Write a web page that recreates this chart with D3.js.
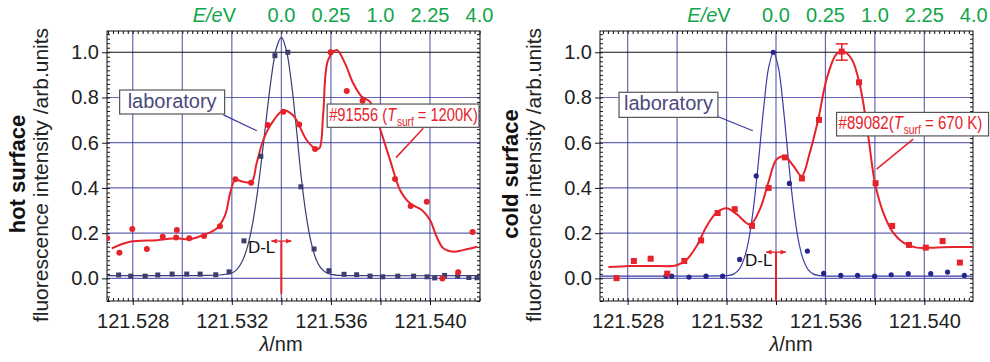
<!DOCTYPE html>
<html><head><meta charset="utf-8">
<script src="https://cdn.jsdelivr.net/npm/d3@7"></script>
<style>
html,body{margin:0;padding:0;background:#fff;}
svg{display:block;font-family:"Liberation Sans",Arial,Helvetica,sans-serif;}
</style></head><body>
<svg id="chart" width="990" height="362"></svg>
<script>
// ---- axis ticks ----
const lambdaTicks = [121.528, 121.530, 121.532, 121.534, 121.536, 121.538, 121.540];
const lambdaLabels = ["121.528", "121.532", "121.536", "121.540"];
const yTicks = [0, 0.2, 0.4, 0.6, 0.8, 1.0];
const energyTicks = [0, 0.25, 1, 2.25, 4];
const energyLabels = ["0.0", "0.25", "1.0", "2.25", "4.0"];

// ---- hot surface: laboratory reference ----
const hotLabX = [121.52743,121.52792,121.5285,121.52901,121.52959,121.53018,121.53072,121.53135,121.53189,121.53249,121.53317,121.53374,121.53426,121.53479,121.53532,121.53592,121.53653,121.53704,121.53758,121.53809,121.5387,121.53934,121.53988,121.54019,121.54059,121.54112,121.54157,121.5419];
const hotLabY = [0.015,0.010,0.010,0.015,0.019,0.019,0.019,0.016,0.029,0.166,0.54,0.985,1.0,0.405,0.13,0.034,0.018,0.016,0.010,0.007,0.010,0.010,0.007,0.002,0.013,0.010,0.004,0.003];
const hotLabFitX = [121.52696,121.5300,121.5310,121.5316,121.5320,121.5322,121.5324,121.5326,121.5328,121.5330,121.5332,121.5334,121.5336,121.5338,121.5340,121.5342,121.5344,121.5346,121.5348,121.5350,121.5352,121.5354,121.5356,121.5358,121.5360,121.5364,121.5370,121.54202];
const hotLabFitY = [0.012,0.012,0.013,0.016,0.024,0.039,0.071,0.128,0.22,0.354,0.524,0.714,0.892,1.019,1.066,1.01,0.87,0.67,0.45,0.28,0.16,0.085,0.045,0.026,0.018,0.013,0.012,0.012];

// ---- hot surface: discharge #91556 ----
const hotX = [121.52697,121.52746,121.52798,121.52857,121.52921,121.52975,121.52978,121.53028,121.53088,121.53152,121.53214,121.53278,121.53345,121.53408,121.53472,121.53536,121.53599,121.53664,121.53728,121.53859,121.53922,121.53987,121.5405,121.54114,121.54172];
const hotY = [0.177,0.113,0.218,0.13,0.184,0.181,0.214,0.177,0.187,0.231,0.438,0.423,0.678,0.737,0.681,0.572,1.0,0.829,0.786,0.439,0.32,0.339,0.0,0.027,0.205];
const hotFitX = [121.52715,121.52789,121.52897,121.52978,121.53031,121.53085,121.53139,121.53173,121.53193,121.53213,121.53246,121.5328,121.533,121.53327,121.53361,121.53408,121.53448,121.53502,121.53536,121.53553,121.53569,121.53589,121.53623,121.53657,121.5369,121.53724,121.53758,121.53791,121.53839,121.53879,121.53919,121.53967,121.54,121.54027,121.54054,121.54094,121.54134,121.5419];
const hotFitY = [0.133,0.162,0.169,0.177,0.173,0.192,0.221,0.28,0.376,0.435,0.427,0.427,0.509,0.612,0.686,0.742,0.72,0.612,0.575,0.575,0.73,0.966,1.01,0.951,0.863,0.804,0.781,0.686,0.523,0.391,0.332,0.302,0.258,0.184,0.133,0.118,0.125,0.14];

// ---- cold surface: laboratory reference ----
const coldLabX = [121.52955,121.52978,121.53048,121.53117,121.53184,121.53253,121.5332,121.53389,121.53454,121.53527,121.53593,121.53662,121.5373,121.53799,121.53866,121.53935,121.54026,121.54094,121.54162];
const coldLabY = [0.01,0.01,0.006,0.01,0.01,0.084,0.453,1.0,0.42,0.121,0.022,0.013,0.013,0.01,0.016,0.021,0.021,0.028,0.013];
const coldLabFitX = [121.52688,121.5310,121.5317,121.5319,121.5321,121.5323,121.5325,121.5327,121.5329,121.5331,121.5333,121.5335,121.5337,121.5339,121.5341,121.5343,121.5345,121.5347,121.5349,121.5351,121.5353,121.5355,121.5357,121.5359,121.5366,121.54197];
const coldLabFitY = [0.01,0.01,0.011,0.011,0.013,0.02,0.039,0.084,0.172,0.322,0.527,0.752,0.931,1.0,0.931,0.752,0.527,0.322,0.172,0.084,0.039,0.02,0.013,0.011,0.01,0.01];

// ---- cold surface: discharge #89082 ----
const coldX = [121.52755,121.52825,121.52893,121.5296,121.53029,121.53097,121.53164,121.53233,121.53303,121.5337,121.53436,121.53505,121.53574,121.53666,121.53736,121.53803,121.5387,121.53938,121.54006,121.54074,121.54144];
const coldY = [0.001,0.077,0.087,0.021,0.077,0.168,0.289,0.306,0.232,0.4,0.535,0.442,0.701,1.003,0.867,0.421,0.232,0.148,0.136,0.165,0.07];
const coldFitX = [121.52722,121.52809,121.52904,121.52998,121.53039,121.53079,121.5312,121.5316,121.532,121.53241,121.53295,121.53335,121.53369,121.53403,121.53436,121.5347,121.53504,121.53537,121.53571,121.53605,121.53645,121.53672,121.53706,121.5374,121.53773,121.538,121.53834,121.53874,121.53915,121.53969,121.54036,121.54117,121.54197];
const coldFitY = [0.05,0.055,0.055,0.058,0.084,0.143,0.232,0.291,0.31,0.284,0.238,0.306,0.424,0.527,0.539,0.498,0.453,0.557,0.704,0.882,0.992,1.003,0.97,0.852,0.63,0.424,0.291,0.202,0.158,0.136,0.136,0.139,0.139];
const coldErrX = [121.53666];
const coldErrLow = [0.965];
const coldErrHigh = [1.037];

// ---- styling ----
const RED = "#e6222a";
const GRID = "#33339c";
const GREEN = "#10a64a";
const plotTop = 31, plotBottom = 301;
const yDomain = [-0.1, 1.094];

const svg = d3.select("#chart");
const defs = svg.append("defs");
defs.append("marker").attr("id", "dlArrow")
  .attr("viewBox", "0 0 10 10").attr("refX", 9).attr("refY", 5)
  .attr("markerWidth", 6).attr("markerHeight", 6)
  .attr("markerUnits", "userSpaceOnUse")
  .attr("orient", "auto-start-reverse")
  .append("path").attr("d", "M0,1 L10,5 L0,9 Z").attr("fill", RED);

const zip = (a, b) => a.map((v, i) => [v, b[i]]);

function drawPanel(p) {
  const x = d3.scaleLinear().domain(p.xDomain).range([p.left, p.right]);
  const y = d3.scaleLinear().domain(yDomain).range([plotBottom, plotTop]);
  const g = svg.append("g");
  const clipId = "clip-" + p.id;
  defs.append("clipPath").attr("id", clipId).append("rect")
    .attr("x", p.left).attr("y", plotTop).attr("width", p.right - p.left).attr("height", plotBottom - plotTop);

  // grid
  g.append("g").selectAll("line").data(lambdaTicks).join("line")
    .attr("x1", d => x(d)).attr("x2", d => x(d)).attr("y1", plotTop).attr("y2", plotBottom)
    .attr("stroke", GRID).attr("stroke-width", 1.2).attr("stroke-opacity", 0.75);
  g.append("g").selectAll("line").data(yTicks).join("line")
    .attr("x1", p.left).attr("x2", p.right).attr("y1", d => y(d)).attr("y2", d => y(d))
    .attr("stroke", d => d === 1 ? "#111" : GRID)
    .attr("stroke-width", 1.2).attr("stroke-opacity", d => d === 1 ? 1 : 0.75);

  // axes
  const minorX = d3.range(121.5270, 121.54201, 0.0002).filter(v => v >= p.xDomain[0] && v <= p.xDomain[1]);
  const minorY = d3.range(-0.1, 1.0901, 0.02);
  const ax = g.append("g").attr("class", "axes");
  const styleAxis = sel => { sel.select(".domain").remove(); sel.selectAll("line").attr("stroke", "#111"); };
  ax.append("g").attr("transform", `translate(0,${plotBottom})`)
    .call(d3.axisBottom(x).tickValues(minorX).tickSize(-3).tickFormat("")).call(styleAxis);
  ax.append("g").attr("transform", `translate(0,${plotBottom})`)
    .call(d3.axisBottom(x).tickValues(lambdaTicks).tickSize(4).tickPadding(9)
      .tickFormat(d => { const s = d3.format(".3f")(d); return lambdaLabels.includes(s) ? s : ""; }))
    .call(styleAxis)
    .selectAll("text").attr("font-size", 20).attr("fill", "#222").attr("font-family", null);
  ax.append("g").attr("transform", `translate(0,${plotTop})`)
    .call(d3.axisTop(x).tickValues(minorX).tickSize(-3).tickFormat("")).call(styleAxis);
  ax.append("g").attr("transform", `translate(${p.left},0)`)
    .call(d3.axisLeft(y).tickValues(minorY).tickSize(-3).tickFormat("")).call(styleAxis);
  ax.append("g").attr("transform", `translate(${p.left},0)`)
    .call(d3.axisLeft(y).tickValues(yTicks).tickSize(5).tickPadding(3).tickFormat(d3.format(".1f")))
    .call(styleAxis)
    .selectAll("text").attr("font-size", 20).attr("fill", "#222").attr("font-family", null);
  ax.append("g").attr("transform", `translate(${p.right},0)`)
    .call(d3.axisRight(y).tickValues(minorY).tickSize(-3).tickFormat("")).call(styleAxis);
  g.append("rect").attr("x", p.left).attr("y", plotTop)
    .attr("width", p.right - p.left).attr("height", plotBottom - plotTop)
    .attr("fill", "none").attr("stroke", "#111").attr("stroke-width", 1);

  // energy scale along the top
  const eScale = d3.scaleSqrt().domain([0, 4]).range([x(121.534), x(121.542)]);
  const eg = g.append("g").attr("fill", GREEN).attr("font-size", 20).attr("text-anchor", "middle");
  eg.selectAll("text").data(energyTicks).join("text")
    .attr("x", d => eScale(d)).attr("y", 22)
    .text((d, i) => energyLabels[i]);
  const et = eg.append("text").attr("x", eScale(0) - 67).attr("y", 22);
  et.append("tspan").attr("font-style", "italic").text("E/e");
  et.append("tspan").text("V");

  // axis titles
  const xt = g.append("text").attr("x", p.xTitleX).attr("y", 351)
    .attr("text-anchor", "middle").attr("font-size", 20).attr("fill", "#222");
  xt.append("tspan").attr("font-style", "italic").text("λ");
  xt.append("tspan").text("/nm");
  g.append("text").attr("transform", `translate(${p.left - 82},174) rotate(-90)`)
    .attr("text-anchor", "middle").attr("font-size", 22).attr("font-weight", "bold")
    .attr("fill", "#111").text(p.title);
  g.append("text").attr("transform", `translate(${p.left - 59},175) rotate(-90)`)
    .attr("text-anchor", "middle").attr("font-size", 21).attr("fill", "#222")
    .text("fluorescence intensity /arb.units");

  const line = d3.line().x(d => x(d[0])).y(d => y(d[1])).curve(d3.curveCatmullRom.alpha(0.5));
  const marks = g.append("g").attr("clip-path", `url(#${clipId})`);

  // laboratory profile
  marks.append("path").datum(zip(p.labFitX, p.labFitY)).attr("d", line)
    .attr("fill", "none").attr("stroke", p.labLine).attr("stroke-width", 1.2);
  // measured profile fit
  marks.append("path").datum(zip(p.fitX, p.fitY)).attr("d", line)
    .attr("fill", "none").attr("stroke", RED).attr("stroke-width", 2);

  // D-L marker
  const dl = g.append("g");
  dl.append("line").attr("x1", x(121.534)).attr("x2", x(121.534))
    .attr("y1", y(p.dlTop)).attr("y2", y(p.dlBottom))
    .attr("stroke", RED).attr("stroke-width", 2);
  dl.append("line").attr("x1", x(121.5336)).attr("x2", x(121.5344))
    .attr("y1", y(p.dlTop)).attr("y2", y(p.dlTop))
    .attr("stroke", RED).attr("stroke-width", 1.3)
    .attr("marker-start", "url(#dlArrow)").attr("marker-end", "url(#dlArrow)");
  dl.append("text").attr("x", x(p.dlTextX)).attr("y", y(p.dlTextY))
    .attr("font-size", 17).attr("fill", "#111").text("D-L");

  // data points
  const labPts = zip(p.labX, p.labY);
  if (p.labShape === "square") {
    marks.append("g").selectAll("rect").data(labPts).join("rect")
      .attr("x", d => x(d[0]) - 2.5).attr("y", d => y(d[1]) - 2.5)
      .attr("width", 5).attr("height", 5).attr("fill", p.labPoint);
  } else {
    marks.append("g").selectAll("circle").data(labPts).join("circle")
      .attr("cx", d => x(d[0])).attr("cy", d => y(d[1])).attr("r", 2.6).attr("fill", p.labPoint);
  }
  const pts = zip(p.ptX, p.ptY);
  if (p.ptShape === "circle") {
    marks.append("g").selectAll("circle").data(pts).join("circle")
      .attr("cx", d => x(d[0])).attr("cy", d => y(d[1])).attr("r", 3).attr("fill", RED);
  } else {
    marks.append("g").selectAll("rect").data(pts).join("rect")
      .attr("x", d => x(d[0]) - 3).attr("y", d => y(d[1]) - 3)
      .attr("width", 6).attr("height", 6).attr("fill", RED);
  }
  if (p.errX) {
    const eb = g.append("g").attr("stroke", RED).attr("stroke-width", 1.5);
    p.errX.forEach((ex, i) => {
      eb.append("line").attr("x1", x(ex)).attr("x2", x(ex)).attr("y1", y(p.errLow[i])).attr("y2", y(p.errHigh[i]));
      [p.errLow[i], p.errHigh[i]].forEach(v => eb.append("line")
        .attr("x1", x(ex) - 6).attr("x2", x(ex) + 6).attr("y1", y(v)).attr("y2", y(v)));
    });
  }

  // annotation: laboratory
  const lb = p.labBox;
  g.append("line").attr("x1", x(lb.lead[0])).attr("y1", y(lb.lead[1]))
    .attr("x2", x(lb.lead[2])).attr("y2", y(lb.lead[3]))
    .attr("stroke", "#3a3aa0").attr("stroke-width", 1.2);
  g.append("rect").attr("x", x(lb.x0)).attr("y", y(lb.y1))
    .attr("width", x(lb.x1) - x(lb.x0)).attr("height", y(lb.y0) - y(lb.y1))
    .attr("fill", "#fff").attr("stroke", "#555").attr("stroke-width", 1.2);
  g.append("text").attr("x", (x(lb.x0) + x(lb.x1)) / 2).attr("y", y(lb.y1) + 18)
    .attr("text-anchor", "middle").attr("font-size", 20).attr("fill", "#4a4a7c").text("laboratory");

  // annotation: discharge label (condensed lettering)
  const sb = p.shotBox;
  g.append("line").attr("x1", x(sb.lead[0])).attr("y1", y(sb.lead[1]))
    .attr("x2", x(sb.lead[2])).attr("y2", y(sb.lead[3]))
    .attr("stroke", RED).attr("stroke-width", 1.5);
  g.append("rect").attr("x", x(sb.x0)).attr("y", y(sb.y1))
    .attr("width", x(sb.x1) - x(sb.x0)).attr("height", y(sb.y0) - y(sb.y1))
    .attr("fill", "#fff").attr("stroke", "#555").attr("stroke-width", 1.2);
  const sg = g.append("g");
  const st = sg.append("text").attr("x", 0).attr("y", 0)
    .attr("font-size", 19).attr("fill", RED);
  st.append("tspan").text(p.shot + "(");
  st.append("tspan").attr("font-style", "italic").text("T");
  st.append("tspan").attr("font-size", 13).attr("dy", 5).attr("dx", 1).text("surf");
  st.append("tspan").attr("dy", -5).text(" = " + p.temp + ")");
  const natural = st.node().getComputedTextLength();
  sg.attr("transform", `translate(${x(sb.x0) + 2},${y(sb.y1) + 17}) scale(${sb.len / natural},1)`);
}

drawPanel({
  id: "hot", title: "hot surface", left: 107, right: 480,
  xDomain: [121.52696, 121.54202], xTitleX: 281,
  labX: hotLabX, labY: hotLabY, labFitX: hotLabFitX, labFitY: hotLabFitY,
  labShape: "square", labPoint: "#3d3d6e", labLine: "#3b3b78",
  ptX: hotX, ptY: hotY, fitX: hotFitX, fitY: hotFitY, ptShape: "circle",
  dlTop: 0.165, dlBottom: -0.068, dlTextX: 121.53265, dlTextY: 0.112,
  labBox: { x0: 121.52747, x1: 121.53171, y0: 0.727, y1: 0.833, lead: [121.53166, 0.723, 121.53301, 0.653] },
  shotBox: { x0: 121.53585, x1: 121.54198, y0: 0.668, y1: 0.771, len: 148, lead: [121.53973, 0.664, 121.53863, 0.534] },
  shot: "#91556 ", temp: "1200K"
});

drawPanel({
  id: "cold", title: "cold surface", left: 600, right: 973,
  xDomain: [121.52688, 121.54197], xTitleX: 791,
  labX: coldLabX, labY: coldLabY, labFitX: coldLabFitX, labFitY: coldLabFitY,
  labShape: "circle", labPoint: "#25258c", labLine: "#3a3aa8",
  ptX: coldX, ptY: coldY, fitX: coldFitX, fitY: coldFitY, ptShape: "square",
  errX: coldErrX, errLow: coldErrLow, errHigh: coldErrHigh,
  dlTop: 0.116, dlBottom: -0.1, dlTextX: 121.53275, dlTextY: 0.053,
  labBox: { x0: 121.52765, x1: 121.53165, y0: 0.712, y1: 0.823, lead: [121.53164, 0.716, 121.53306, 0.653] },
  shotBox: { x0: 121.53645, x1: 121.5426, y0: 0.63, y1: 0.734, len: 143, lead: [121.53955, 0.616, 121.53807, 0.483] },
  shot: "#89082", temp: "670 K"
});
</script>
</body></html>
